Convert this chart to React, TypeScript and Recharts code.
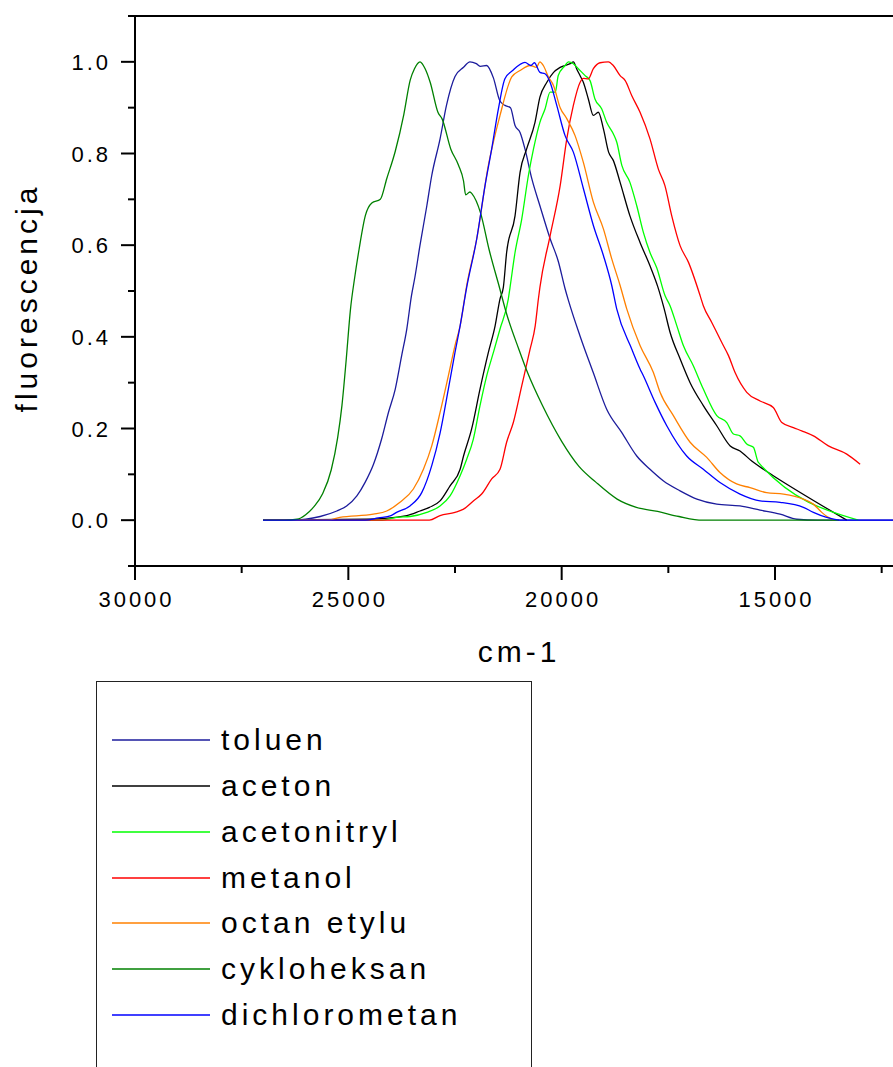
import { LineChart, Line, XAxis, YAxis, ReferenceLine, Legend } from "recharts";

// wavenumber (cm-1), normalised fluorescence
const toluen: [number, number][] = [
  [27000, 0], [26300, 0], [26000, 0.002], [25660, 0.008], [25270, 0.02], [25040, 0.031], [24800, 0.053],
  [24610, 0.082], [24410, 0.122], [24220, 0.177], [24060, 0.235], [23900, 0.286], [23750, 0.359],
  [23630, 0.417], [23520, 0.49], [23440, 0.53], [23320, 0.6], [23160, 0.686], [23045, 0.752],
  [22850, 0.832], [22700, 0.905], [22500, 0.968], [22300, 0.988], [22150, 1.0], [22000, 0.996],
  [21900, 0.99], [21760, 0.992], [21600, 0.965], [21450, 0.915], [21330, 0.905], [21200, 0.9],
  [21093, 0.861], [20975, 0.846], [20860, 0.81], [20700, 0.745], [20510, 0.686], [20270, 0.614],
  [20080, 0.565], [19920, 0.505], [19840, 0.479], [19570, 0.402], [19260, 0.322], [18945, 0.242],
  [18590, 0.191], [18240, 0.14], [17930, 0.111], [17620, 0.086], [17225, 0.064], [16830, 0.046],
  [16365, 0.035], [15820, 0.031], [15350, 0.022], [14880, 0.013], [14490, 0.002], [14000, 0], [12000, 0],
];

const aceton: [number, number][] = [
  [27000, 0], [24570, 0.002], [23630, 0.01], [23320, 0.02], [23100, 0.028], [22850, 0.042],
  [22616, 0.075], [22380, 0.111], [22300, 0.14], [22110, 0.199], [21914, 0.286], [21718, 0.366],
  [21560, 0.424], [21445, 0.483], [21367, 0.508], [21290, 0.584], [21093, 0.664], [20975, 0.759],
  [20820, 0.81], [20625, 0.868], [20510, 0.923], [20350, 0.955], [20190, 0.977], [20035, 0.988],
  [19800, 0.996], [19725, 1.0], [19650, 0.985], [19570, 0.97], [19490, 0.955], [19375, 0.919],
  [19257, 0.883], [19140, 0.89], [19020, 0.853], [18900, 0.803], [18790, 0.785], [18630, 0.737],
  [18400, 0.664], [18163, 0.606], [17930, 0.555], [17750, 0.51], [17600, 0.462], [17460, 0.41],
  [17225, 0.352], [16990, 0.3], [16680, 0.25], [16365, 0.206], [16050, 0.162], [15820, 0.151],
  [15545, 0.129], [15272, 0.111], [15040, 0.097], [13318, 0],
];

const acetonitryl: [number, number][] = [
  [27000, 0], [24200, 0], [23870, 0.006], [23550, 0.008], [23160, 0.017], [22850, 0.031],
  [22616, 0.053], [22380, 0.097], [22226, 0.133], [22070, 0.177], [21914, 0.25], [21757, 0.315],
  [21600, 0.366], [21445, 0.417], [21250, 0.483], [21210, 0.508], [21093, 0.584], [20936, 0.657],
  [20780, 0.752], [20660, 0.81], [20510, 0.868], [20390, 0.897], [20270, 0.934], [20150, 0.934],
  [20080, 0.97], [19920, 0.992], [19844, 1.0], [19726, 0.996], [19610, 0.985], [19450, 0.97],
  [19335, 0.959], [19220, 0.919], [19060, 0.897], [18945, 0.868], [18790, 0.843], [18710, 0.825],
  [18590, 0.774], [18400, 0.737], [18240, 0.686], [18085, 0.628], [17930, 0.584], [17770, 0.55],
  [17578, 0.49], [17460, 0.468], [17300, 0.424], [17148, 0.381], [16915, 0.337], [16680, 0.286],
  [16365, 0.228], [16130, 0.213], [15975, 0.188], [15820, 0.184], [15662, 0.166], [15506, 0.159],
  [15390, 0.126], [13045, 0],
];

const metanol: [number, number][] = [
  [27000, 0], [23100, 0], [22850, 0.01], [22500, 0.017], [22300, 0.024], [22070, 0.042],
  [21875, 0.057], [21640, 0.09], [21445, 0.111], [21290, 0.17], [21133, 0.213], [20936, 0.293],
  [20740, 0.373], [20620, 0.424], [20545, 0.483], [20510, 0.508], [20270, 0.621], [20035, 0.73],
  [19880, 0.832], [19726, 0.905], [19570, 0.955], [19490, 0.964], [19375, 0.963], [19257, 0.985],
  [19100, 0.998], [18905, 1.0], [18790, 0.992], [18630, 0.97], [18510, 0.959], [18356, 0.926],
  [18163, 0.89], [17930, 0.832], [17734, 0.766], [17580, 0.73], [17420, 0.664], [17225, 0.599],
  [17030, 0.563], [16755, 0.49], [16680, 0.468], [16485, 0.432], [16250, 0.388], [16090, 0.359],
  [15936, 0.322], [15662, 0.279], [15350, 0.26], [15040, 0.246], [14840, 0.213], [14570, 0.202],
  [14375, 0.195], [14100, 0.184], [13750, 0.162], [13318, 0.144], [13005, 0.122],
];

const octanEtylu: [number, number][] = [
  [27000, 0], [25500, 0], [25200, 0.006], [24414, 0.013], [24100, 0.02], [23790, 0.039],
  [23476, 0.068], [23240, 0.111], [23045, 0.162], [22850, 0.235], [22656, 0.315], [22500, 0.381],
  [22380, 0.424], [22226, 0.512], [21990, 0.614], [21718, 0.774], [21445, 0.883], [21170, 0.967],
  [20975, 0.981], [20740, 0.992], [20590, 0.988], [20510, 1.0], [20430, 0.992], [20310, 0.967],
  [20190, 0.948], [20035, 0.9], [19880, 0.876], [19686, 0.839], [19490, 0.78], [19257, 0.694],
  [19020, 0.635], [18826, 0.57], [18630, 0.512], [18475, 0.461], [18163, 0.381], [17850, 0.322],
  [17694, 0.279], [17382, 0.228], [16990, 0.17], [16600, 0.137], [16290, 0.104], [15900, 0.079],
  [15585, 0.071], [15195, 0.06], [14800, 0.057], [14335, 0.046], [14100, 0.035], [13905, 0.017],
  [13750, 0.006], [13630, 0],
];

const cykloheksan: [number, number][] = [
  [27000, 0], [26500, 0], [26200, 0.002], [26000, 0.012], [25800, 0.03], [25600, 0.058],
  [25400, 0.11], [25250, 0.18], [25150, 0.25], [25050, 0.35], [24950, 0.46], [24850, 0.53],
  [24750, 0.59], [24600, 0.665], [24450, 0.692], [24250, 0.7], [24100, 0.745], [23900, 0.805],
  [23700, 0.885], [23550, 0.96], [23450, 0.985], [23320, 1.0], [23200, 0.985], [23080, 0.955],
  [22900, 0.89], [22800, 0.875], [22600, 0.81], [22420, 0.775], [22300, 0.74], [22250, 0.71],
  [22150, 0.716], [22100, 0.712], [21900, 0.67], [21700, 0.59], [21450, 0.505], [21300, 0.453],
  [21000, 0.372], [20800, 0.322], [20450, 0.25], [20000, 0.172], [19600, 0.118], [19200, 0.083],
  [18700, 0.046], [18250, 0.028], [17750, 0.019], [17250, 0.008], [16700, 0], [13500, 0],
];

const dichlorometan: [number, number][] = [
  [27000, 0], [24600, 0], [24300, 0.005], [24000, 0.01], [23870, 0.017], [23555, 0.031],
  [23280, 0.06], [23045, 0.119], [22850, 0.19], [22656, 0.286], [22500, 0.366], [22380, 0.424],
  [22226, 0.508], [21990, 0.614], [21796, 0.73], [21640, 0.81], [21484, 0.897], [21330, 0.963],
  [21150, 0.981], [20860, 0.999], [20720, 0.992], [20640, 0.998], [20510, 0.977], [20390, 0.974],
  [20270, 0.955], [20115, 0.905], [19920, 0.839], [19726, 0.803], [19490, 0.723], [19257, 0.643],
  [19020, 0.577], [18826, 0.512], [18710, 0.461], [18356, 0.373], [18163, 0.33], [18085, 0.315],
  [17810, 0.257], [17537, 0.206], [17070, 0.14], [16680, 0.111], [16290, 0.082], [15820, 0.057],
  [15350, 0.042], [14880, 0.039], [14335, 0.028], [14100, 0.017], [13790, 0.006], [13475, 0], [12000, 0],
];

const seriesNames = ["toluen", "aceton", "acetonitryl", "metanol", "octan etylu", "cykloheksan", "dichlorometan"];
const seriesColors = ["#1c1c9c", "#000000", "#00ff00", "#ff0000", "#ff8000", "#008000", "#0000ff"];
const seriesData = [toluen, aceton, acetonitryl, metanol, octanEtylu, cykloheksan, dichlorometan];

const xTicks = [30000, 27500, 25000, 22500, 20000, 17500, 15000, 12500];
const yTicks = [-0.1, 0, 0.1, 0.2, 0.3, 0.4, 0.5, 0.6, 0.7, 0.8, 0.9, 1.0, 1.1];

const FONT = "'Liberation Sans', Arial, sans-serif";

const YTick = (props: any) => {
  const { x, y, payload } = props;
  const v = payload.value;
  const major = Math.round(v * 10) % 2 === 0 && v > -0.05 && v < 1.05;
  const len = major ? 14 : 7;
  return (
    <g>
      <line x1={x - len} x2={x} y1={y} y2={y} stroke="#000" strokeWidth={2} />
      {major && (
        <text x={x - 24} y={y + 8} textAnchor="end" fontFamily={FONT} fontSize={22} letterSpacing={3} fill="#000">
          {v.toFixed(1)}
        </text>
      )}
    </g>
  );
};

const XTick = (props: any) => {
  const { x, y, payload } = props;
  const v = payload.value;
  const major = v % 5000 === 0;
  const len = major ? 14 : 7;
  return (
    <g>
      <line x1={x} x2={x} y1={y} y2={y + len} stroke="#000" strokeWidth={2} />
      {major && (
        <text x={x + 1.5} y={y + 41} textAnchor="middle" fontFamily={FONT} fontSize={22} letterSpacing={3} fill="#000">
          {v}
        </text>
      )}
    </g>
  );
};

// legend drawn from the series arrays so the order and colours match the plot
const LegendBox = () => (
  <div
    style={{
      width: 436,
      height: 400,
      boxSizing: "border-box",
      border: "1.5px solid #222",
      background: "#fff",
      position: "relative",
      fontFamily: FONT,
    }}
  >
    {seriesNames.map((name, i) => {
      const mid = Math.round(58.2 + i * 45.8);
      return (
        <div key={name}>
          <svg
            width={100}
            height={4}
            style={{ position: "absolute", left: 14, top: mid - 2 }}
          >
            <line x1={1} x2={99} y1={2} y2={2} stroke={seriesColors[i]} strokeWidth={1.5} />
          </svg>
          <span
            style={{
              position: "absolute",
              left: 124,
              top: mid - 17,
              fontSize: 30,
              letterSpacing: 4,
              color: "#000",
              lineHeight: "34px",
              whiteSpace: "nowrap",
            }}
          >
            {name}
          </span>
        </div>
      );
    })}
  </div>
);

export default function App() {
  return (
    <div style={{ position: "absolute", left: 0, top: 0, width: 893, height: 1067, overflow: "hidden", background: "#fff" }}>
      <LineChart width={910} height={1067} margin={{ top: 16, right: 7, bottom: 441, left: 0 }}>
        <XAxis
          type="number"
          dataKey="x"
          domain={[12000, 30000]}
          reversed
          ticks={xTicks}
          interval={0}
          allowDataOverflow
          height={60}
          tickSize={0}
          tickMargin={0}
          tickLine={false}
          axisLine={{ stroke: "#000", strokeWidth: 2 }}
          tick={<XTick />}
          label={() => (
            <text x={519} y={662} textAnchor="middle" fontFamily={FONT} fontSize={30} letterSpacing={4} fill="#000">
              cm-1
            </text>
          )}
        />
        <YAxis
          type="number"
          dataKey="y"
          domain={[-0.1, 1.1]}
          ticks={yTicks}
          interval={0}
          allowDataOverflow
          width={135}
          tickSize={0}
          tickMargin={0}
          tickLine={false}
          axisLine={{ stroke: "#000", strokeWidth: 2 }}
          tick={<YTick />}
          label={() => (
            <text
              transform="translate(37,298) rotate(-90)"
              textAnchor="middle"
              fontFamily={FONT}
              fontSize={30}
              letterSpacing={4}
              fill="#000"
            >
              fluorescencja
            </text>
          )}
        />
        <ReferenceLine y={1.1} stroke="#000" strokeWidth={2} />
        {seriesNames.map((name, i) => (
          <Line
            key={name}
            name={name}
            data={seriesData[i].map(([x, y]) => ({ x, y }))}
            dataKey="y"
            type="monotone"
            stroke={seriesColors[i]}
            strokeWidth={1.3}
            dot={false}
            activeDot={false}
            isAnimationActive={false}
          />
        ))}
        <Legend
          layout="horizontal"
          verticalAlign="middle"
          align="center"
          content={<LegendBox />}
          wrapperStyle={{ left: 96, top: 681, width: 436, height: 400 }}
        />
      </LineChart>
    </div>
  );
}
